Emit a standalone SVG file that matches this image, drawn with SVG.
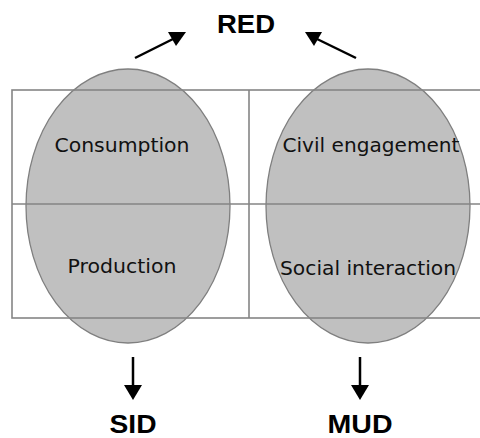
<svg xmlns="http://www.w3.org/2000/svg" width="480" height="438" viewBox="0 0 480 438">
<style>
.ell{fill:#c0c0c0;stroke:#7f7f7f;stroke-width:1.3}
.grid{fill:none;stroke:#858585;stroke-width:1.6}
.lbl{font-family:"DejaVu Sans",sans-serif;font-size:20px;fill:#111;text-anchor:middle}
.big{font-family:"Liberation Sans",Arial,sans-serif;font-weight:bold;font-size:26px;fill:#000;text-anchor:middle}
</style>
<g id="left-oval"><ellipse class="ell" cx="128" cy="206" rx="102" ry="137"/></g>
<g id="right-oval"><ellipse class="ell" cx="368" cy="206" rx="102" ry="137"/></g>
<g id="grid">
<rect class="grid" x="12" y="90" width="470" height="228"/>
<line class="grid" x1="12" y1="204" x2="482" y2="204"/>
<line class="grid" x1="249" y1="90" x2="249" y2="318"/>
</g>
<g id="consumption"><text class="lbl" x="122" y="152" textLength="135" lengthAdjust="spacingAndGlyphs">Consumption</text></g>
<g id="production"><text class="lbl" x="122" y="273" textLength="109" lengthAdjust="spacingAndGlyphs">Production</text></g>
<g id="civil"><text class="lbl" x="371" y="152" textLength="177" lengthAdjust="spacingAndGlyphs">Civil engagement</text></g>
<g id="social"><text class="lbl" x="368" y="275" textLength="176" lengthAdjust="spacingAndGlyphs">Social interaction</text></g>
<g id="red"><text class="big" x="246" y="33" textLength="58" lengthAdjust="spacingAndGlyphs">RED</text></g>
<g id="sid"><text class="big" x="133" y="433" textLength="47" lengthAdjust="spacingAndGlyphs">SID</text></g>
<g id="mud"><text class="big" x="360" y="433" textLength="65" lengthAdjust="spacingAndGlyphs">MUD</text></g>
<g id="connectors" stroke="#000" stroke-width="2.5" fill="#000">
<line x1="135" y1="58" x2="175" y2="38"/>
<polygon points="186,32 168,32 176,46" stroke="none"/>
<line x1="356" y1="58" x2="315" y2="38"/>
<polygon points="305,32 322,32 314,46" stroke="none"/>
<line x1="133" y1="357" x2="133" y2="388"/>
<polygon points="124,385 142,385 133,400" stroke="none"/>
<line x1="360" y1="357" x2="360" y2="388"/>
<polygon points="351,385 369,385 360,400" stroke="none"/>
</g>
</svg>
